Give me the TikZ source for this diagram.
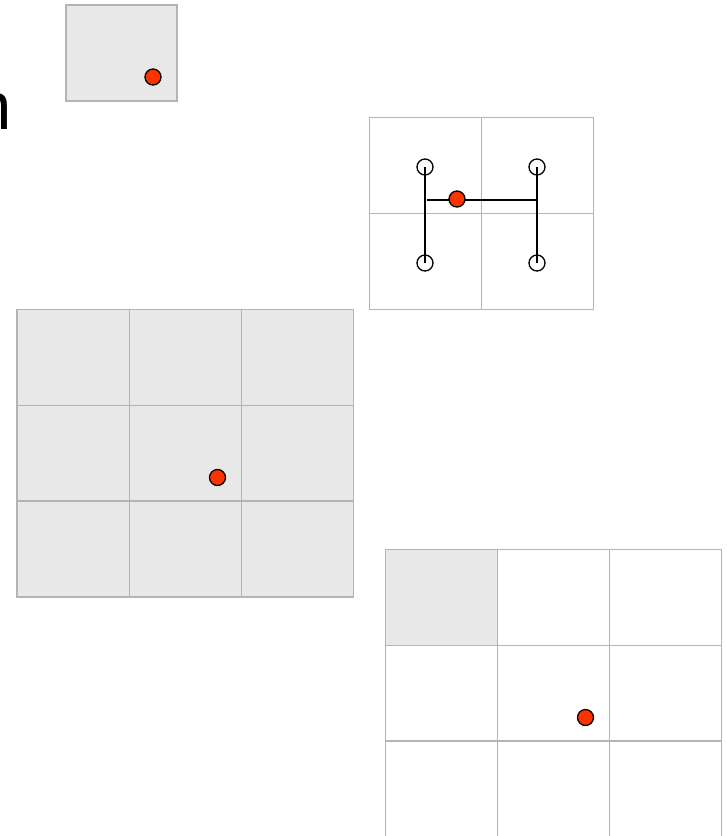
\documentclass[tikz,border=0pt]{standalone}
\usepackage{fontspec}
\setmainfont{Liberation Sans}
\begin{document}
\begin{tikzpicture}[x=1pt,y=-1pt,
  gridline/.style={draw=gridgray,line width=1.8pt},
  cellfill/.style={fill=cellgray},
  reddot/.style={circle,fill=dotred,draw=black,line width=1.3pt,minimum size=16pt,inner sep=0pt},
  opendot/.style={circle,fill=white,draw=black,line width=1.3pt,minimum size=16pt,inner sep=0pt},
  wire/.style={draw=black,line width=1.5pt}]
\definecolor{gridgray}{HTML}{B4B4B4}
\definecolor{cellgray}{HTML}{E8E8E8}
\definecolor{dotred}{HTML}{FF3300}
\useasboundingbox (0,0) rectangle (727,836);
\fill[white] (0,0) rectangle (727,836);
% cut-off letter
\node[anchor=base east,inner sep=0pt,font=\fontsize{67}{67}\selectfont] (letter) at (11.5,129) {n};
% small single box
\fill[cellfill] (66,5) rectangle (177,101);
\draw[gridline] (66,5) rectangle (177,101);
\node[reddot] (d1) at (153,77) {};
% 2x2 grid
\draw[gridline] (369.5,117.5) rectangle (593.5,309.5);
\draw[gridline] (481.5,117.5) -- (481.5,309.5);
\draw[gridline] (369.5,213.5) -- (593.5,213.5);
\node[opendot] (c1) at (425,167) {};
\node[opendot] (c2) at (537,167) {};
\node[opendot] (c3) at (425,263) {};
\node[opendot] (c4) at (537,263) {};
\draw[wire] (c1.center) -- (c3.center);
\draw[wire] (c2.center) -- (c4.center);
\coordinate (hl) at (427,200);
\coordinate (hr) at (537,200);
\draw[wire] (hl) -- (hr);
\node[reddot] (d2) at (457,199) {};
% 3x3 gray grid
\fill[cellfill] (17,309.5) rectangle (353.5,597);
\draw[gridline] (17,309.5) rectangle (353.5,597);
\draw[gridline] (129.5,309.5) -- (129.5,597);
\draw[gridline] (241.5,309.5) -- (241.5,597);
\draw[gridline] (17,405.5) -- (353.5,405.5);
\draw[gridline] (17,501) -- (353.5,501);
\node[reddot] (d3) at (217.5,477.5) {};
% bottom right grid
\fill[cellfill] (385.5,549.5) rectangle (497.5,645.5);
\draw[gridline] (385.5,840) -- (385.5,549.5) -- (721.5,549.5) -- (721.5,840);
\draw[gridline] (497.5,549.5) -- (497.5,840);
\draw[gridline] (609.5,549.5) -- (609.5,840);
\draw[gridline] (385.5,645.5) -- (721.5,645.5);
\draw[gridline] (385.5,741) -- (721.5,741);
\draw[gridline] (385.5,837) -- (721.5,837);
\node[reddot] (d4) at (585.5,717.5) {};
\end{tikzpicture}
\end{document}
